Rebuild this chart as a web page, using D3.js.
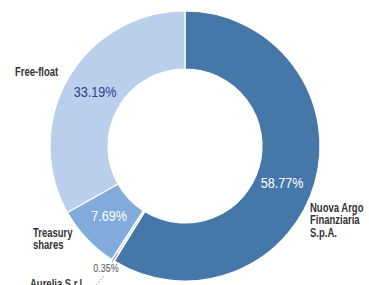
<!DOCTYPE html>
<html><head><meta charset="utf-8">
<script src="https://cdn.jsdelivr.net/npm/d3@7"></script>
<style>
html,body{margin:0;padding:0;background:#fff;overflow:hidden;}
.lbl{font-family:"Liberation Sans","Arial",sans-serif;font-weight:bold;fill:#333;}
.pct{font-family:"Liberation Sans","Arial",sans-serif;}
</style>
</head><body>
<svg id="c" width="369" height="285"></svg>
<script>
const categories = ["Nuova Argo Finanziaria S.p.A.", "Aurelia S.r.l.", "Treasury shares", "Free-float"];
const values = [58.77, 0.35, 7.69, 33.19];
const valueLabels = ["58.77%", "0.35%", "7.69%", "33.19%"];
const colors = ["#4677a9", "#d6e3f2", "#80abdb", "#b9cfec"];

const svg = d3.select("#c");
const cx = 185, cy = 146, rOut = 135, rIn = 77;
const g = svg.append("g").attr("transform", `translate(${cx},${cy})`);
const pie = d3.pie().sort(null).value(d => d)(values);
const arc = d3.arc().innerRadius(rIn).outerRadius(rOut);
g.selectAll("path").data(pie).enter().append("path")
  .attr("d", arc).attr("fill", (d,i) => colors[i])
  .attr("stroke", "#fff").attr("stroke-width", 1.2);

// percentage labels
const pctPos = [[282, 188], [106, 272], [109, 221], [95, 97]];
const pctColor = ["#fff", "#555", "#fff", "#2d3c8e"];
const pctSize = [14, 10, 14, 14];
valueLabels.forEach((t,i) => {
  svg.append("text").attr("class","pct")
    .attr("transform", `translate(${pctPos[i][0]},${pctPos[i][1]}) scale(0.9,1)`)
    .attr("text-anchor","middle").attr("font-size", pctSize[i])
    .attr("fill", pctColor[i]).text(t);
});

// category labels (condensed)
const catLines = [["Nuova Argo","Finanziaria","S.p.A."],["Aurelia S.r.l."],["Treasury","shares"],["Free-float"]];
const catPos = [[310, 212], [30, 288], [33, 237], [15, 76]];
catLines.forEach((lines,i) => {
  const t = svg.append("text").attr("class","lbl").attr("font-size", 12.5)
    .attr("transform", `translate(${catPos[i][0]},${catPos[i][1]}) scale(0.76,1)`);
  lines.forEach((l,j) => t.append("tspan").attr("x", 0).attr("dy", j ? 12.5 : 0).text(l));
});

// leader for small slice
const aMid = (pie[1].startAngle + pie[1].endAngle)/2;
const p0 = [cx + Math.sin(aMid)*(rOut-8), cy - Math.cos(aMid)*(rOut-8)];
svg.append("line").attr("x1", p0[0]).attr("y1", p0[1]).attr("x2", 112).attr("y2", 262)
  .attr("stroke","#888").attr("stroke-width",0.8);
svg.append("line").attr("x1", 104).attr("y1", 276).attr("x2", 96).attr("y2", 285)
  .attr("stroke","#888").attr("stroke-width",0.8).attr("stroke-dasharray","2,1.5");
</script>
</body></html>
